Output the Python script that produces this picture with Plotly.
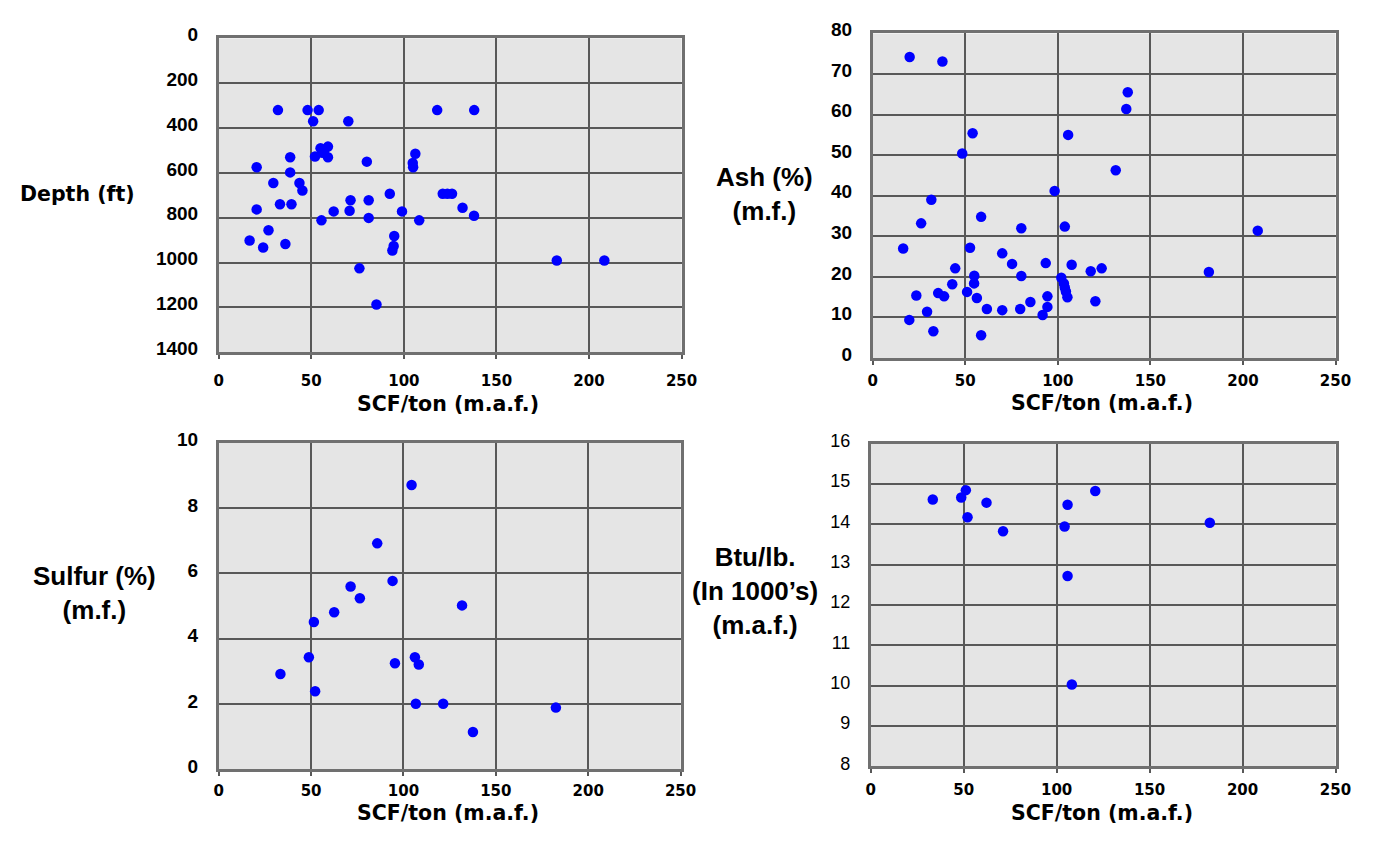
import plotly.graph_objects as go

# ---- Data ----
depth_scf = [32, 48, 54, 51, 70, 118, 138, 55, 59, 52, 59, 56, 57, 38.6, 20.5, 38.6, 80,
             106.2, 104.8, 105, 29.5, 43.6, 45.2, 33.1, 39.3, 20.5, 71.2, 81, 92.4, 62.1,
             70.7, 81, 99, 55.5, 108.3, 121, 123.5, 126, 131.7, 137.9, 26.9, 16.7, 24, 36,
             94.8, 94.5, 93.8, 76, 182.6, 208.3, 85.2]
depth_ft = [320, 320, 320, 370, 370, 320, 320, 490, 483, 527, 530, 510, 500, 530, 575, 598, 550,
            515, 556, 575, 645, 645, 679, 740, 740, 763, 722, 722, 693, 772,
            769, 801, 772, 812, 812, 693, 693, 693, 756, 791, 856, 902, 933, 917,
            882, 926, 946, 1026, 991, 991, 1187]

ash_scf = [20, 37.7, 137.8, 137, 54, 105.6, 48.4, 131.3, 98.3, 31.7, 26.2, 58.6, 80.3, 103.8,
           208, 16.5, 52.6, 70, 75.3, 93.5, 107.5, 117.8, 123.7, 181.6, 44.6, 54.9, 80.3,
           101.9, 43, 54.8, 103.3, 103.8, 104.4, 105.2, 51, 35.4, 38.6, 23.6, 56.3, 94.4,
           120.3, 85.2, 61.7, 70, 79.7, 94.4, 91.8, 29.4, 19.8, 32.8, 58.6]
ash_pct = [74.2, 73.1, 65.5, 61.4, 55.4, 55, 50.4, 46.3, 41.2, 39, 33.2, 34.8, 32, 32.4,
           31.4, 27, 27.2, 25.8, 23.2, 23.4, 23, 21.4, 22.1, 21.2, 22.1, 20.3, 20.2,
           19.8, 18.2, 18.4, 18.4, 17.4, 16.4, 15, 16.3, 16, 15.2, 15.4, 14.8, 15.2,
           14, 13.8, 12.1, 11.8, 12.1, 12.6, 10.6, 11.4, 9.4, 6.6, 5.6]

sulfur_scf = [104.4, 85.8, 94.1, 71.4, 76.4, 131.7, 62.5, 51.5, 48.8, 95.4, 106.2, 108.3,
              33.4, 52.2, 106.7, 121.5, 182.5, 137.6]
sulfur_pct = [8.71, 6.92, 5.77, 5.6, 5.24, 5.02, 4.81, 4.51, 3.43, 3.25, 3.43, 3.21,
              2.92, 2.39, 2.01, 2.01, 1.89, 1.14]

btu_scf = [33.4, 48.7, 51.2, 52.1, 62.3, 71.2, 105.9, 104.3, 120.8, 105.9, 108.2, 182.4]
btu_k = [14.62, 14.67, 14.85, 14.18, 14.54, 13.83, 14.49, 13.95, 14.83, 12.72, 10.03, 14.04]

x_title = "SCF/ton (m.a.f.)"
y_titles = ["Depth (ft)", "Ash (%)<br>(m.f.)", "Sulfur (%)<br>(m.f.)",
            "Btu/lb.<br>(In 1000\u2019s)<br>(m.a.f.)"]

# ---- Layout geometry (reference pixels on a 1384x865 page) ----
W, H = 1384, 865
ARIAL = "Liberation Sans, Arial, sans-serif"
WIDE = "DejaVu Sans, Verdana, sans-serif"
GRID = "#585858"
BG = "#e5e5e5"

def fx(px):
    return px / W

def fy(py):
    return 1 - py / H

panels = [  # (left, right, top, bottom) in pixels
    (217, 687, 25, 347),
    (881, 1351, 20, 353),
    (217, 686, 440, 775),
    (879, 1351, 441, 772),
]
yranges = [[1400, 0], [0, 80], [0, 10], [8, 16]]
ydticks = [200, 10, 2, 1]
data_sets = [(depth_scf, depth_ft), (ash_scf, ash_pct), (sulfur_scf, sulfur_pct), (btu_scf, btu_k)]
x_standoff = [9, 3, 2, 4]
ytick_shift = [4, -4, -3, -3]
ytick_bold = [True, True, True, False]
xtitle_pos = [(450, 400), (1114, 399), (450, 820), (1114, 820)]
ytitle_specs = [  # (font family, size, x center, y center)
    (WIDE, 20.5, 74, 185),
    (ARIAL, 26, 771, 185),
    (ARIAL, 26, 91, 594),
    (ARIAL, 26, 762, 592),
]

fig = go.Figure()
layout = dict(autosize=True, margin=dict(l=0, r=0, t=0, b=0, pad=0),
              paper_bgcolor="white", plot_bgcolor=BG, showlegend=False,
              font=dict(family=ARIAL, color="black"))
annotations = []
for i, ((x0, x1, t, b), yr, dt, (xs, ys)) in enumerate(zip(panels, yranges, ydticks, data_sets)):
    n = "" if i == 0 else str(i + 1)
    xa, ya = "x" + n, "y" + n
    fig.add_trace(go.Scatter(x=xs, y=ys, mode="markers", xaxis=xa, yaxis=ya,
                             marker=dict(color="#0000ff", size=10.5, symbol="circle",
                                         line=dict(width=0))))
    common = dict(showgrid=True, gridcolor=GRID, gridwidth=2, zeroline=False,
                  showline=True, linecolor="#707070", linewidth=2.5, mirror=True)
    layout["xaxis" + n] = dict(domain=[fx(x0), fx(x1)], range=[0, 250], dtick=50,
                               anchor=ya, ticks="outside", tickcolor=GRID, ticklen=4,
                               tickwidth=1.5, ticklabelstandoff=x_standoff[i],
                               tickfont=dict(family=WIDE, size=15, color="black", weight="bold"),
                               **common)
    layout["yaxis" + n] = dict(domain=[fy(b), fy(t)], range=yr, dtick=dt,
                               anchor=xa, ticks="", ticklabelstandoff=14,
                               ticklabelshift=ytick_shift[i],
                               tickfont=dict(family=ARIAL, size=19 if ytick_bold[i] else 18,
                                             color="black",
                                             weight="bold" if ytick_bold[i] else "normal"),
                               **common)
    tx, ty = xtitle_pos[i]
    annotations.append(dict(text=x_title, xref="paper", yref="paper",
                            x=fx(tx), y=fy(ty), xanchor="center", yanchor="middle",
                            showarrow=False,
                            font=dict(family=WIDE, size=20.5, color="black", weight="bold")))
    fam, size, cx, cy = ytitle_specs[i]
    annotations.append(dict(text=y_titles[i], xref="paper", yref="paper",
                            x=fx(cx), y=fy(cy), xanchor="center", yanchor="middle",
                            align="center", showarrow=False,
                            font=dict(family=fam, size=size, color="black", weight="bold")))

layout["annotations"] = annotations
fig.update_layout(**layout)
fig.write_html("out.html", config={"displayModeBar": False, "responsive": True},
               default_width="100vw", default_height="100vh",
               post_script="document.body.style.margin='0';document.body.style.overflow='hidden';")
